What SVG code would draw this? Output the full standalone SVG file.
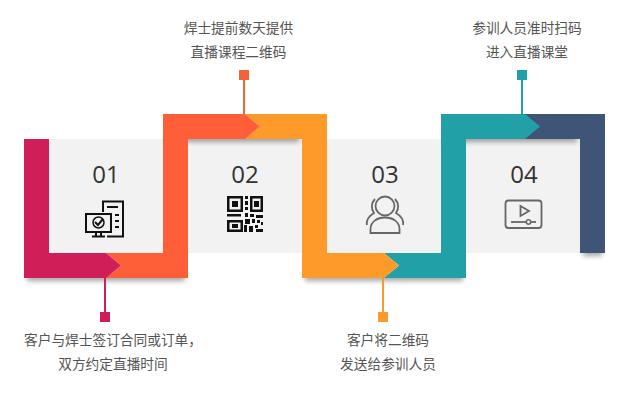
<svg xmlns="http://www.w3.org/2000/svg" width="630" height="400" viewBox="0 0 630 400">
<style>
text{font-family:"Noto Sans CJK SC","Noto Sans",sans-serif;text-anchor:middle}
.num{font-family:"Open Sans","Noto Sans",sans-serif;font-size:24px;fill:#333}
.lab{font-size:13.700px;fill:#555}
.line{fill:none;stroke-width:2}
.ik{fill:none;stroke:#111;stroke-width:2}
.ig{fill:none;stroke:#666;stroke-width:1.800}
.shadow{fill:#000;opacity:.35;filter:url(#b)}
</style>
<defs><filter id="b" x="-20%" y="-60%" width="140%" height="220%"><feGaussianBlur stdDeviation="2.500"/></filter></defs>
<rect width="630" height="400" fill="#fff"/>
<g id="panels" fill="#f2f2f2">
<rect x="49" y="139" width="114" height="114"/>
<rect x="188" y="139" width="114" height="114"/>
<rect x="327" y="139" width="114" height="114"/>
<rect x="466" y="139" width="114" height="114"/>
</g>
<g id="shadows">
<rect class="shadow" x="27" y="274" width="158" height="7"/>
<rect class="shadow" x="166" y="135" width="133" height="7"/>
<rect class="shadow" x="305" y="274" width="158" height="7"/>
<rect class="shadow" x="444" y="135" width="133" height="7"/>
<rect class="shadow" x="583" y="249" width="19" height="7"/>
</g>
<g id="connectors">
<path class="line" stroke="#cf1e58" d="M105 278V314"/>
<path class="line" stroke="#f2633a" d="M244 114V78"/>
<path class="line" stroke="#f59a2c" d="M383 278V314"/>
<path class="line" stroke="#21a0a8" d="M522 114V78"/>
<path d="M525 114H605V253H580V139H525Z" fill="#3f5577"/>
<path d="M384 253H441V114H525L540 126.500L525 139H466V278H384L399 265.500Z" fill="#21a0a8"/>
<path d="M245 114H327V253H384L399 265.500L384 278H302V139H245L260 126.500Z" fill="#fd9a29"/>
<path d="M106 253H163V114H245L260 126.500L245 139H188V278H106L121 265.500Z" fill="#fe5f38"/>
<path d="M24 139H49V253H106L121 265.500L106 278H24Z" fill="#cf1e58"/>
</g>
<g id="node1">
<text class="num" x="106" y="183">01</text>
<path class="ik" d="M103 212V201.500H123V236.500H107"/><path class="ik" d="M107 207H118"/>
<rect class="ik" x="86" y="214" width="25" height="18"/><path class="ik" d="M92 236.500H105M96 232V236M101 232V236"/>
<path class="ik" d="M95 222L98 225L103 219"/><circle cx="98.500" cy="222.500" r="5.500" fill="none" stroke="#111" stroke-width="1.500"/>
<path class="ik" d="M115 215H119M115 221H119M115 227H119"/>
<rect x="100" y="312" width="10" height="10" fill="#cf1e58"/>
<text class="lab" x="113" y="345">客户与焊士签订合同或订单，</text>
<text class="lab" x="113" y="369">双方约定直播时间</text>
</g>
<g id="node2">
<text class="num" x="245" y="183">02</text>
<g fill="#111">
<path fill-rule="evenodd" d="M227 196H243V212H227ZM229.500 198.500V209.500H240.500V198.500ZM232 201H238V207H232Z"/>
<path fill-rule="evenodd" d="M250 196H263V212H250ZM252.500 198.500V209.500H260.500V198.500ZM254 201H259V207H254Z"/>
<path fill-rule="evenodd" d="M227 220H243V232H227ZM229.500 222.500V229.500H240.500V222.500ZM232 224H238V228H232Z"/>
<rect x="245" y="196" width="3" height="3"/><rect x="245" y="201" width="3" height="4"/><rect x="245" y="207" width="3" height="3"/>
<rect x="227" y="214" width="14" height="2.500"/><rect x="245" y="213" width="3" height="4"/><rect x="250" y="214" width="4" height="3"/><rect x="256" y="215" width="7" height="3"/>
<rect x="245" y="219" width="5" height="5"/><rect x="252" y="219" width="3" height="4"/><rect x="257" y="220" width="3" height="3"/><rect x="261" y="222" width="2" height="3"/>
<rect x="244" y="225" width="3" height="7"/><rect x="249" y="226" width="4" height="6"/><rect x="255" y="225" width="3" height="3"/><rect x="256" y="229" width="7" height="3"/>
</g>
<rect x="239" y="70" width="10" height="10" fill="#f2633a"/>
<text class="lab" x="238.500" y="33">焊士提前数天提供</text>
<text class="lab" x="238.500" y="57">直播课程二维码</text>
</g>
<g id="node3">
<text class="num" x="385" y="183">03</text>
<circle class="ig" cx="385" cy="206" r="9.500"/>
<path class="ig" d="M370.500 233V229C370.500 222 377 217.500 385 217.500C393 217.500 399.500 222 399.500 229V233Z"/>
<path class="ig" d="M375 199C371 203 371 209 374 213C369 216 366 220 367 225"/>
<path class="ig" d="M395 199C399 203 399 209 396 213C401 216 404 220 403 225"/>
<rect x="378" y="312" width="10" height="10" fill="#fd9a29"/>
<text class="lab" x="388" y="345">客户将二维码</text>
<text class="lab" x="388" y="369">发送给参训人员</text>
</g>
<g id="node4">
<text class="num" x="524" y="183">04</text>
<rect class="ig" x="505.500" y="200.500" width="36" height="27.500" rx="3"/>
<path class="ig" d="M520.500 206L529 211L520.500 216Z"/>
<path class="ig" d="M511 222H536"/>
<circle cx="528.500" cy="222" r="2.200" fill="#f2f2f2" stroke="#666" stroke-width="1.500"/>
<rect x="517" y="70" width="10" height="10" fill="#21a0a8"/>
<text class="lab" x="527" y="33">参训人员准时扫码</text>
<text class="lab" x="527" y="57">进入直播课堂</text>
</g>
</svg>
